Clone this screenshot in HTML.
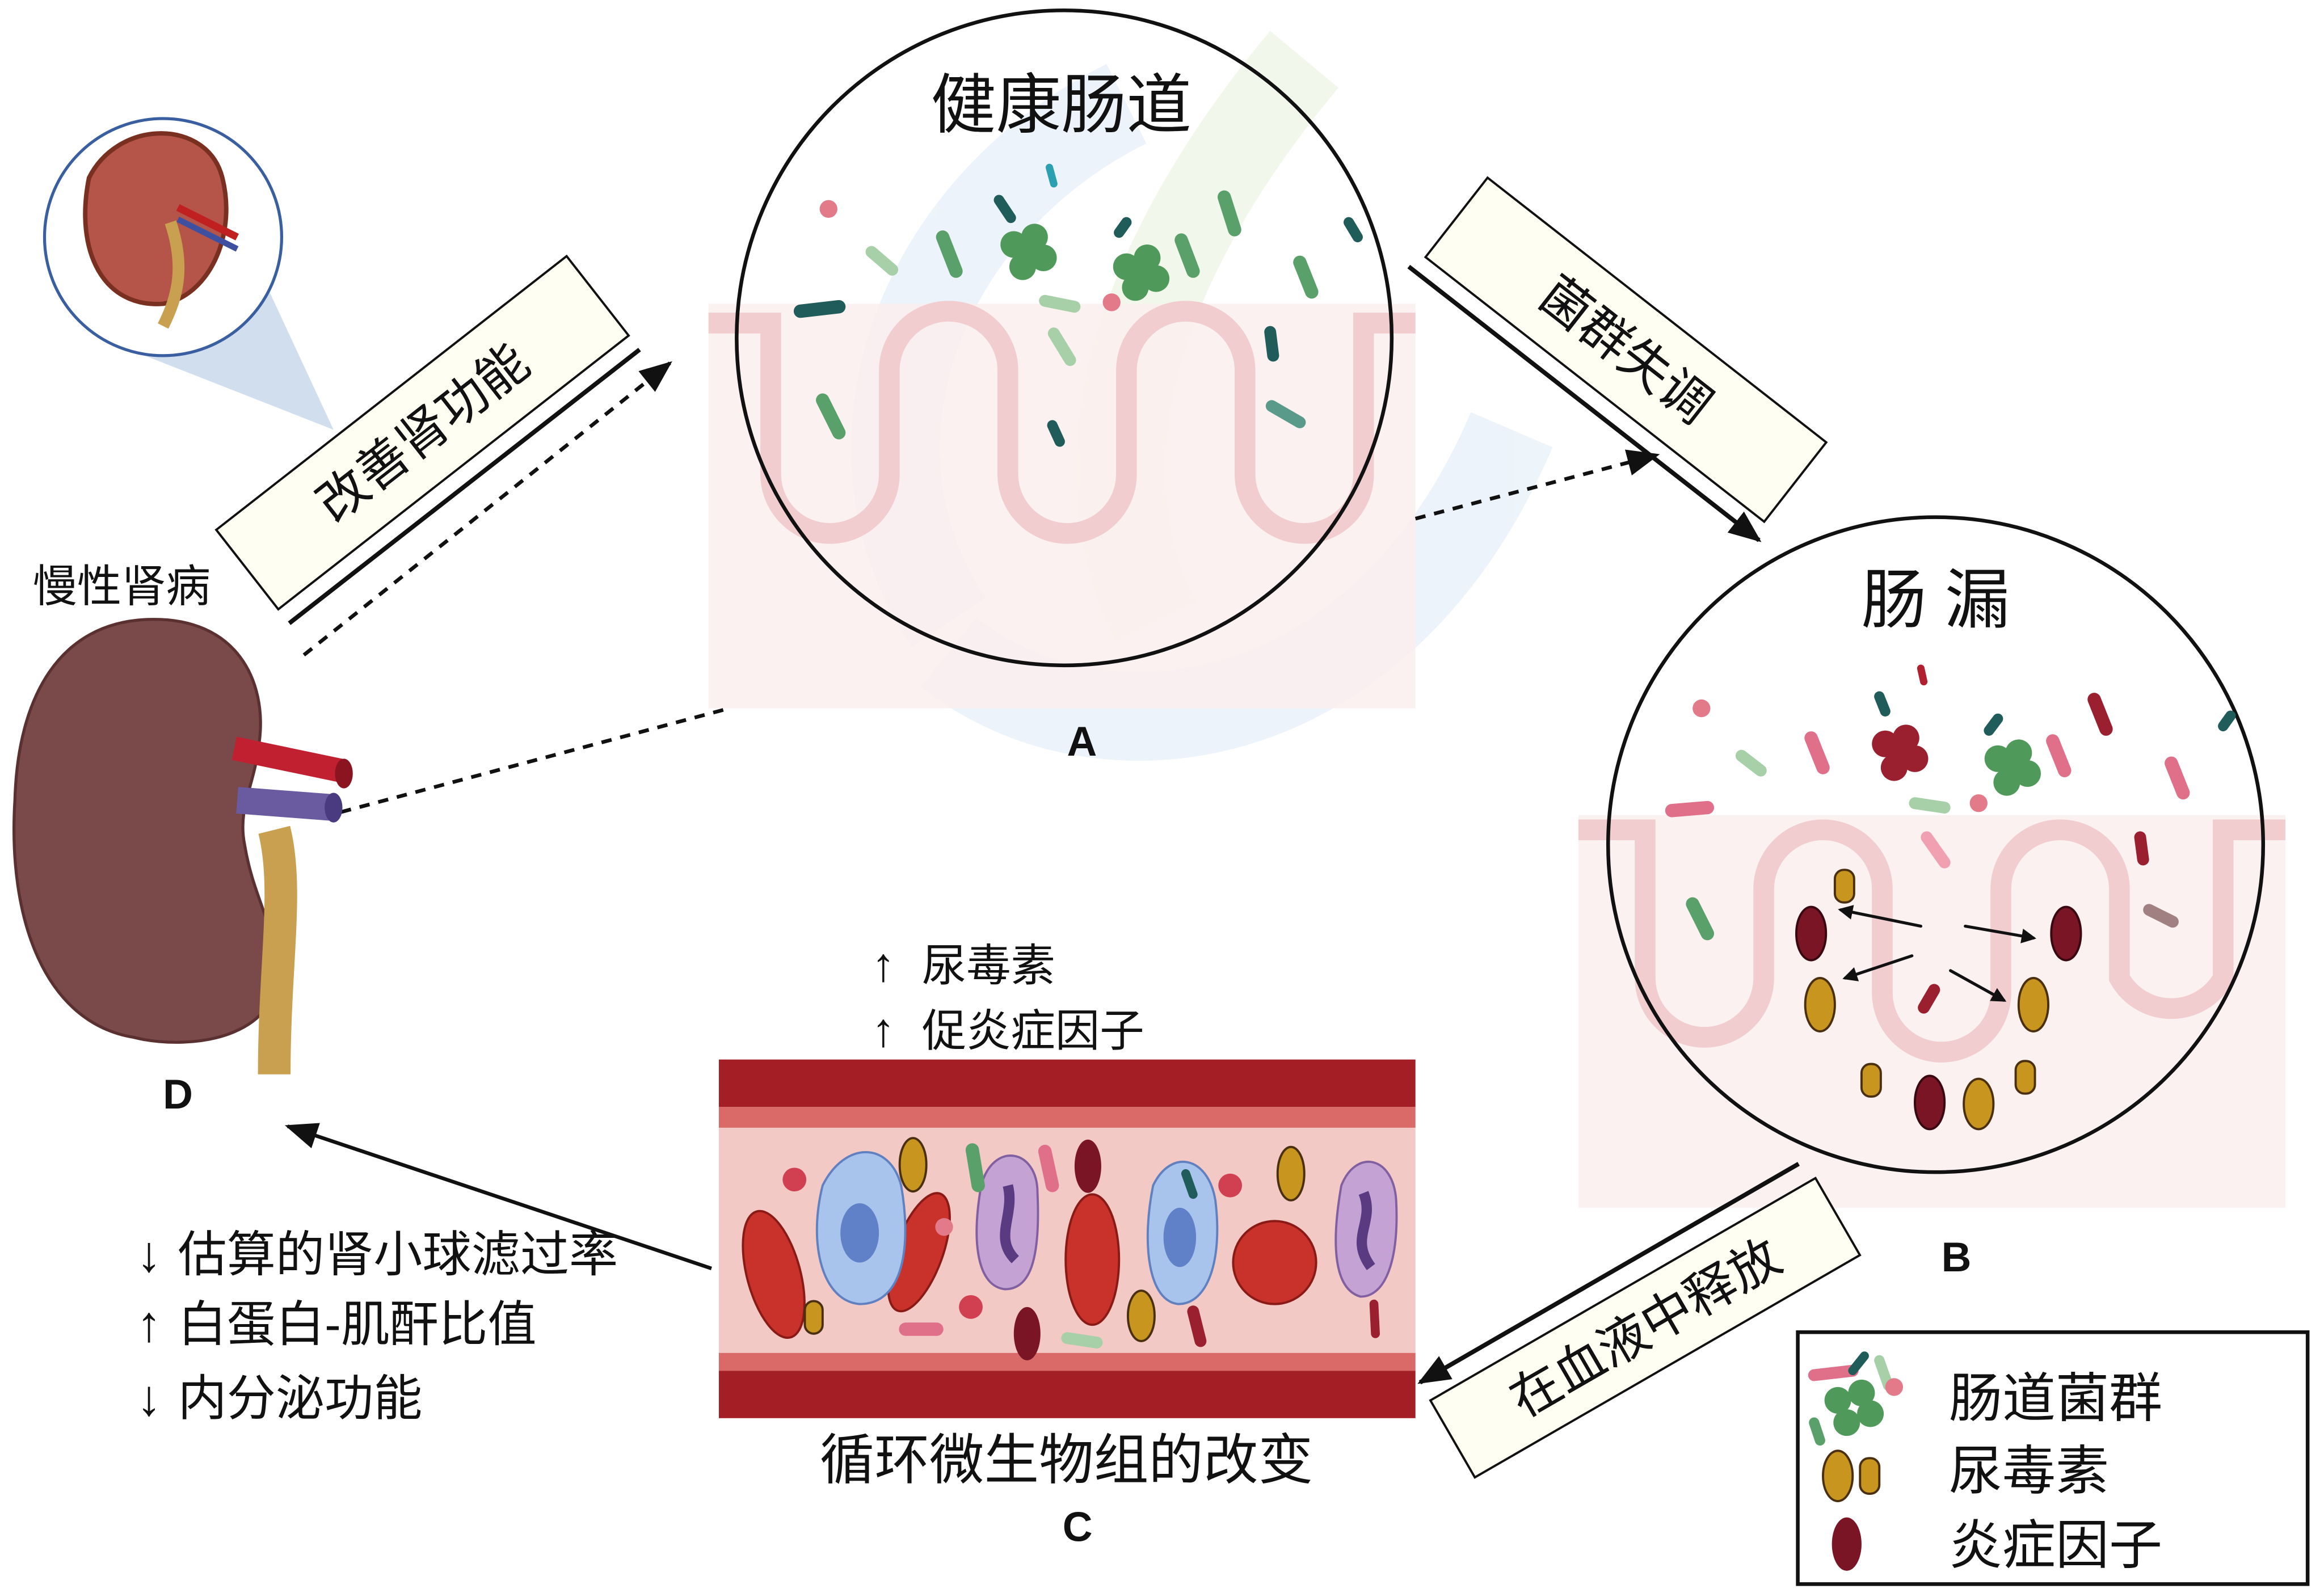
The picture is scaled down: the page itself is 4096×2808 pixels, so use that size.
<!DOCTYPE html>
<html><head><meta charset="utf-8">
<style>
html,body{margin:0;padding:0;background:#fff;}
svg{display:block;}
text{font-family:"Liberation Sans","Noto Sans CJK SC",sans-serif;}
</style></head>
<body>
<svg width="4096" height="2808" viewBox="0 0 1568 1075" xmlns="http://www.w3.org/2000/svg">
<defs>
<marker id="ah" markerWidth="10" markerHeight="10" refX="8" refY="5" orient="auto" markerUnits="userSpaceOnUse"><path d="M0,0 L10,5 L0,10 z" fill="#111"/></marker>
<marker id="ahb" markerWidth="22" markerHeight="18" refX="20" refY="9" orient="auto" markerUnits="userSpaceOnUse"><path d="M0,0 L22,9 L0,18 z" fill="#111"/></marker>
<clipPath id="cA"><circle cx="718" cy="228" r="221"/></clipPath>
<clipPath id="cB"><circle cx="1306" cy="570" r="221"/></clipPath>
</defs>
<rect width="1568" height="1075" fill="#fff"/>

<!-- watermark -->
<g opacity="0.25" fill="none" stroke-width="60">
<path d="M640,420 C560,300 620,140 760,70" stroke="#b9d3ec"/>
<path d="M780,420 C720,300 780,160 880,40" stroke="#cfe2b8"/>
<path d="M640,440 C740,520 930,500 1020,290" stroke="#b9d3ec"/>
</g>

<!-- pink intestine bg A -->
<rect x="478" y="205" width="477" height="273" fill="#fbeeee" opacity="0.8"/>
<g fill="none" stroke="#f1cdd0" stroke-width="14">
<path d="M478,218 H520 V320 A40,40 0 0 0 600,320 V250 A40,40 0 0 1 680,250 V320 A40,40 0 0 0 760,320 V250 A40,40 0 0 1 840,250 V320 A40,40 0 0 0 920,320 V218 H955"/>
</g>

<!-- pink bg B -->
<rect x="1065" y="550" width="477" height="265" fill="#fbeeee" opacity="0.8"/>
<g fill="none" stroke="#f1cdd0" stroke-width="14">
<path d="M1065,560 H1110 V660 A40,40 0 0 0 1190,660 V600 A40,40 0 0 1 1270,600 V670 A40,40 0 0 0 1350,670 V600 A40,40 0 0 1 1430,600 V660 A40,40 0 0 0 1500,660 V560 H1542"/>
</g>

<!-- Circle A -->
<circle cx="718" cy="228" r="221" fill="none" stroke="#111" stroke-width="2.5"/>
<text x="716" y="86" font-size="44" text-anchor="middle" fill="#111">健康肠道</text>
<g clip-path="url(#cA)" stroke-linecap="round">
<circle cx="559" cy="141" r="6" fill="#e27a8a"/>
<circle cx="750" cy="204" r="6" fill="#e27a8a"/>
<line x1="540" y1="210" x2="566" y2="207" stroke="#1f5c5a" stroke-width="9"/>
<line x1="588" y1="170" x2="602" y2="182" stroke="#a8d0a8" stroke-width="8"/>
<line x1="636" y1="160" x2="645" y2="183" stroke="#5aa06a" stroke-width="9"/>
<line x1="674" y1="135" x2="682" y2="147" stroke="#1f5c5a" stroke-width="7"/>
<line x1="708" y1="113" x2="711" y2="124" stroke="#2aa0b0" stroke-width="5"/>
<line x1="755" y1="157" x2="760" y2="150" stroke="#1f5c5a" stroke-width="7"/>
<line x1="797" y1="162" x2="805" y2="183" stroke="#5aa06a" stroke-width="9"/>
<line x1="826" y1="133" x2="833" y2="155" stroke="#5aa06a" stroke-width="9"/>
<line x1="877" y1="177" x2="885" y2="197" stroke="#5aa06a" stroke-width="9"/>
<line x1="910" y1="150" x2="916" y2="160" stroke="#1f5c5a" stroke-width="7"/>
<line x1="705" y1="203" x2="725" y2="207" stroke="#a8d0a8" stroke-width="8"/>
<line x1="711" y1="225" x2="722" y2="243" stroke="#a8d0a8" stroke-width="8"/>
<line x1="857" y1="224" x2="859" y2="240" stroke="#1f5c5a" stroke-width="8"/>
<line x1="555" y1="270" x2="566" y2="292" stroke="#5aa06a" stroke-width="9"/>
<line x1="710" y1="287" x2="715" y2="298" stroke="#1f5c5a" stroke-width="7"/>
<line x1="858" y1="274" x2="877" y2="285" stroke="#5a9a8a" stroke-width="8"/>
<g fill="#4f9a5a"><circle cx="684" cy="165" r="9"/><circle cx="698" cy="160" r="9"/><circle cx="704" cy="174" r="9"/><circle cx="690" cy="180" r="9"/><circle cx="694" cy="168" r="8"/></g>
<g fill="#4f9a5a"><circle cx="760" cy="180" r="9"/><circle cx="774" cy="174" r="9"/><circle cx="780" cy="188" r="9"/><circle cx="766" cy="194" r="9"/><circle cx="770" cy="183" r="8"/></g>
</g>

<!-- Circle B -->
<circle cx="1306" cy="570" r="221" fill="none" stroke="#111" stroke-width="2.5"/>
<text x="1306" y="420" font-size="44" text-anchor="middle" fill="#111">肠 漏</text>
<g clip-path="url(#cB)" stroke-linecap="round">
<circle cx="1148" cy="478" r="6" fill="#e27a8a"/>
<circle cx="1335" cy="542" r="6" fill="#e27a8a"/>
<line x1="1128" y1="547" x2="1152" y2="545" stroke="#e0708a" stroke-width="9"/>
<line x1="1175" y1="510" x2="1188" y2="520" stroke="#a8d0a8" stroke-width="8"/>
<line x1="1222" y1="498" x2="1230" y2="518" stroke="#e0708a" stroke-width="9"/>
<line x1="1268" y1="470" x2="1272" y2="480" stroke="#1f5c5a" stroke-width="7"/>
<line x1="1296" y1="451" x2="1298" y2="460" stroke="#b02030" stroke-width="5"/>
<line x1="1342" y1="493" x2="1348" y2="485" stroke="#1f5c5a" stroke-width="7"/>
<line x1="1385" y1="500" x2="1393" y2="520" stroke="#e0708a" stroke-width="9"/>
<line x1="1413" y1="472" x2="1421" y2="492" stroke="#9a2030" stroke-width="9"/>
<line x1="1465" y1="515" x2="1473" y2="535" stroke="#e0708a" stroke-width="9"/>
<line x1="1500" y1="490" x2="1505" y2="483" stroke="#1f5c5a" stroke-width="7"/>
<line x1="1292" y1="542" x2="1312" y2="545" stroke="#a8d0a8" stroke-width="8"/>
<line x1="1300" y1="565" x2="1312" y2="582" stroke="#f0a0b0" stroke-width="8"/>
<line x1="1444" y1="565" x2="1446" y2="580" stroke="#9a2030" stroke-width="8"/>
<line x1="1142" y1="610" x2="1152" y2="630" stroke="#5aa06a" stroke-width="9"/>
<line x1="1298" y1="680" x2="1305" y2="668" stroke="#9a2030" stroke-width="8"/>
<line x1="1450" y1="614" x2="1466" y2="622" stroke="#a08080" stroke-width="8"/>
<g fill="#9a2030"><circle cx="1272" cy="502" r="9"/><circle cx="1286" cy="498" r="9"/><circle cx="1292" cy="512" r="9"/><circle cx="1278" cy="518" r="9"/><circle cx="1282" cy="508" r="8"/></g>
<g fill="#4f9a5a"><circle cx="1348" cy="512" r="9"/><circle cx="1362" cy="508" r="9"/><circle cx="1368" cy="522" r="9"/><circle cx="1354" cy="528" r="9"/><circle cx="1358" cy="518" r="8"/></g>
<g fill="#c8961e" stroke="#4a3010" stroke-width="1.5">
<rect x="1238" y="587" width="13" height="22" rx="6"/>
<ellipse cx="1228" cy="678" rx="10" ry="18"/>
<ellipse cx="1372" cy="678" rx="10" ry="18"/>
<rect x="1256" y="718" width="13" height="22" rx="6"/>
<ellipse cx="1335" cy="745" rx="10" ry="17"/>
<rect x="1360" y="716" width="13" height="22" rx="6"/>
</g>
<g fill="#7a1525" stroke="#3a0810" stroke-width="1.5">
<ellipse cx="1222" cy="630" rx="10" ry="18"/>
<ellipse cx="1394" cy="630" rx="10" ry="18"/>
<ellipse cx="1302" cy="744" rx="10" ry="18"/>
</g>
<g stroke="#111" stroke-width="2" marker-end="url(#ah)">
<line x1="1296" y1="625" x2="1242" y2="614"/>
<line x1="1326" y1="625" x2="1372" y2="633"/>
<line x1="1290" y1="645" x2="1245" y2="660"/>
<line x1="1316" y1="655" x2="1352" y2="675"/>
</g>
</g>

<!-- Labels -->
<g font-size="28" font-weight="bold" fill="#111" text-anchor="middle">
<text x="730" y="510">A</text>
<text x="1320" y="858">B</text>
<text x="727" y="1040">C</text>
<text x="120" y="748">D</text>
</g>

<!-- rotated boxes -->
<g transform="translate(285,292) rotate(-38)">
<rect x="-150" y="-34" width="300" height="68" fill="#fffef2" stroke="#111" stroke-width="1.5"/>
<line x1="-150" y1="46" x2="150" y2="46" stroke="#111" stroke-width="3"/>
<text x="0" y="12" font-size="34" text-anchor="middle" fill="#111">改善肾功能</text>
</g>
<g transform="translate(1097,236) rotate(38)">
<rect x="-145" y="-34" width="290" height="68" fill="#fffef2" stroke="#111" stroke-width="1.5"/>
<line x1="-150" y1="46" x2="150" y2="46" stroke="#111" stroke-width="3" marker-end="url(#ahb)"/>
<text x="0" y="12" font-size="34" text-anchor="middle" fill="#111">菌群失调</text>
</g>
<g transform="translate(1110,896) rotate(-30)">
<rect x="-150" y="-30" width="300" height="60" fill="#fffef2" stroke="#111" stroke-width="1.5"/>
<line x1="145" y1="-44" x2="-150" y2="-44" stroke="#111" stroke-width="3" marker-end="url(#ahb)"/>
<text x="0" y="12" font-size="34" text-anchor="middle" fill="#111">在血液中释放</text>
</g>

<!-- dashed arrows -->
<g stroke="#111" stroke-width="2.5" stroke-dasharray="7,6" fill="none">
<line x1="205" y1="442" x2="452" y2="245" marker-end="url(#ahb)"/>
<line x1="955" y1="350" x2="1118" y2="307" marker-end="url(#ahb)"/>
<line x1="230" y1="548" x2="492" y2="478"/>
</g>
<line x1="480" y1="856" x2="194" y2="760" stroke="#111" stroke-width="2.5" marker-end="url(#ahb)"/>

<!-- small kidney inset -->
<polygon points="85,235 160,150 225,290" fill="#c5d6e8" opacity="0.8"/>
<circle cx="110" cy="160" r="80" fill="#fff" stroke="#3a5fa0" stroke-width="2"/>
<path d="M60,120 C80,80 140,80 150,120 C160,160 140,200 110,205 C70,208 50,170 60,120z" fill="#b5554a" stroke="#7a3020" stroke-width="3"/>
<path d="M115,150 C125,180 120,200 110,220" stroke="#c8a050" stroke-width="8" fill="none"/>
<line x1="120" y1="140" x2="160" y2="160" stroke="#c02020" stroke-width="5"/>
<line x1="120" y1="148" x2="160" y2="168" stroke="#4050a0" stroke-width="4"/>

<!-- big kidney -->
<text x="22" y="406" font-size="30" fill="#111">慢性肾病</text>
<path d="M185,640 C200,700 130,710 90,700 C30,690 5,620 10,540 C12,470 40,420 100,418 C160,416 180,460 175,500 C172,530 160,545 165,570 C170,600 180,615 185,640z" fill="#7a4a4a" stroke="#5a3030" stroke-width="2"/>
<path d="M185,560 C195,600 185,650 185,725" stroke="#c8a050" stroke-width="22" fill="none"/>
<path d="M158,505 L230,520" stroke="#c02030" stroke-width="16" fill="none"/>
<ellipse cx="232" cy="522" rx="6" ry="10" fill="#8a1520"/>
<path d="M160,540 L225,545" stroke="#6a5aa0" stroke-width="18" fill="none"/>
<ellipse cx="225" cy="545" rx="6" ry="10" fill="#4a3a80"/>

<!-- blood vessel -->
<rect x="485" y="715" width="470" height="242" fill="#f3c9c6"/>
<rect x="485" y="715" width="470" height="32" fill="#a41f25"/>
<rect x="485" y="747" width="470" height="14" fill="#d96a68"/>
<rect x="485" y="925" width="470" height="32" fill="#a41f25"/>
<rect x="485" y="913" width="470" height="12" fill="#d96a68"/>
<g fill="#c8322a" stroke="#8a1a15" stroke-width="1.5">
<ellipse cx="522" cy="860" rx="18" ry="44" transform="rotate(-15 522 860)"/>
<ellipse cx="620" cy="845" rx="16" ry="42" transform="rotate(20 620 845)"/>
<ellipse cx="737" cy="850" rx="18" ry="44"/>
<circle cx="860" cy="852" r="28"/>
</g>
<g fill="#a8c4ec" stroke="#6080c0" stroke-width="1.5">
<path d="M555,800 C570,770 600,770 608,800 C615,840 610,880 580,880 C555,878 545,840 555,800z"/>
<path d="M778,800 C790,775 815,780 820,810 C825,850 815,880 795,880 C775,878 770,840 778,800z"/>
</g>
<ellipse cx="580" cy="832" rx="13" ry="20" fill="#6080c8"/>
<ellipse cx="796" cy="835" rx="11" ry="20" fill="#6080c8"/>
<g fill="#c4a2d4" stroke="#8060a0" stroke-width="1.5">
<path d="M662,800 C670,770 700,775 700,805 C702,850 695,870 678,870 C660,868 655,840 662,800z"/>
<path d="M905,800 C915,775 940,780 942,810 C944,850 935,875 918,875 C900,870 898,840 905,800z"/>
</g>
<path d="M680,800 C685,820 670,835 685,850" stroke="#5a3a80" stroke-width="7" fill="none"/>
<path d="M920,805 C928,825 910,835 925,855" stroke="#5a3a80" stroke-width="7" fill="none"/>
<g fill="#c8961e" stroke="#4a3010" stroke-width="1.5">
<ellipse cx="616" cy="786" rx="9" ry="18"/>
<ellipse cx="871" cy="792" rx="9" ry="18"/>
<rect x="543" y="878" width="12" height="22" rx="6"/>
<ellipse cx="770" cy="888" rx="9" ry="17"/>
</g>
<g fill="#7a1525">
<ellipse cx="734" cy="787" rx="9" ry="18"/>
<ellipse cx="693" cy="900" rx="9" ry="18"/>
</g>
<g stroke-linecap="round">
<line x1="656" y1="776" x2="660" y2="800" stroke="#5aa06a" stroke-width="9"/>
<line x1="705" y1="777" x2="710" y2="800" stroke="#e0708a" stroke-width="9"/>
<line x1="611" y1="897" x2="632" y2="897" stroke="#e0708a" stroke-width="9"/>
<line x1="720" y1="903" x2="740" y2="906" stroke="#a8d0a8" stroke-width="8"/>
<line x1="800" y1="792" x2="805" y2="806" stroke="#1f5c5a" stroke-width="6"/>
<line x1="805" y1="885" x2="810" y2="905" stroke="#9a2030" stroke-width="8"/>
<line x1="927" y1="880" x2="928" y2="900" stroke="#9a2030" stroke-width="6"/>
</g>
<circle cx="637" cy="828" r="6" fill="#e27a8a"/>
<g fill="#d04050"><circle cx="536" cy="796" r="8"/><circle cx="655" cy="882" r="8"/><circle cx="830" cy="800" r="8"/></g>

<!-- texts above vessel -->
<g font-size="30" fill="#111">
<text x="588" y="662" font-size="32">↑</text><text x="622" y="662">尿毒素</text>
<text x="588" y="706" font-size="32">↑</text><text x="622" y="706">促炎症因子</text>
<text x="553" y="998" font-size="37">循环微生物组的改变</text>
<text x="92" y="858" font-size="34">↓</text><text x="120" y="858" font-size="33">估算的肾小球滤过率</text>
<text x="92" y="905" font-size="34">↑</text><text x="120" y="905" font-size="33">白蛋白-肌酐比值</text>
<text x="92" y="955" font-size="34">↓</text><text x="120" y="955" font-size="33">内分泌功能</text>
</g>

<!-- legend -->
<rect x="1213" y="899" width="344" height="170" fill="#fff" stroke="#111" stroke-width="2.5"/>
<g stroke-linecap="round">
<line x1="1224" y1="928" x2="1250" y2="925" stroke="#e0708a" stroke-width="8"/>
<line x1="1250" y1="925" x2="1258" y2="915" stroke="#1f5c5a" stroke-width="6"/>
<line x1="1224" y1="960" x2="1228" y2="972" stroke="#5aa06a" stroke-width="7"/>
<line x1="1268" y1="918" x2="1274" y2="935" stroke="#a8d0a8" stroke-width="7"/>
</g>
<circle cx="1278" cy="936" r="6" fill="#e27a8a"/>
<g fill="#4f9a5a"><circle cx="1240" cy="945" r="9"/><circle cx="1256" cy="940" r="9"/><circle cx="1262" cy="954" r="9"/><circle cx="1246" cy="960" r="9"/></g>
<g fill="#c8961e" stroke="#4a3010" stroke-width="1.5">
<ellipse cx="1240" cy="996" rx="10" ry="17"/>
<rect x="1255" y="984" width="13" height="24" rx="6"/>
</g>
<ellipse cx="1246" cy="1042" rx="10" ry="18" fill="#7a1525"/>
<g font-size="36" fill="#111">
<text x="1315" y="956">肠道菌群</text>
<text x="1315" y="1005">尿毒素</text>
<text x="1315" y="1055">炎症因子</text>
</g>
</svg>
</body></html>
